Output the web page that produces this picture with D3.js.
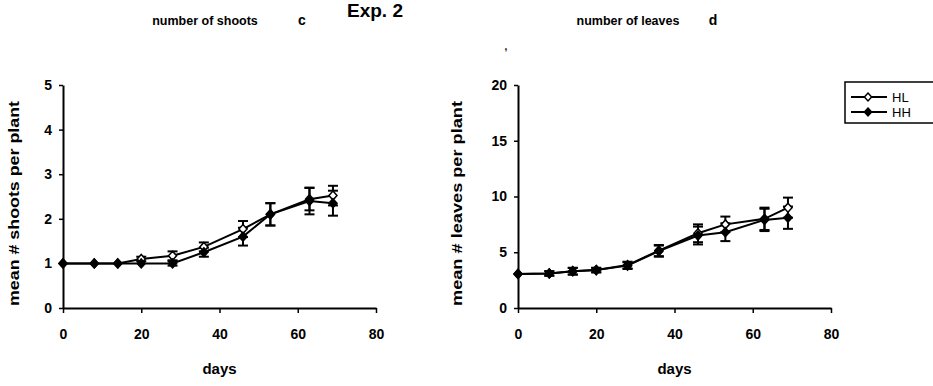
<!DOCTYPE html>
<html>
<head>
<meta charset="utf-8">
<script src="https://cdn.jsdelivr.net/npm/d3@7"></script>
<style>
	body { margin: 0; background: #fff; }
	svg text { font-family: "Liberation Sans", Arial, sans-serif; font-weight: bold; fill: #000; }
</style>
</head>
<body>
<div id="chart"></div>
<script>

// sampling days
let days = [0, 8, 14, 20, 28, 36, 46, 53, 63, 69];

// number of shoots (panel c)
let shootsHL = [1, 1, 1, 1.1, 1.17, 1.37, 1.77, 2.1, 2.44, 2.52];
let shootsHLErr = [0, 0, 0, 0.05, 0.1, 0.1, 0.18, 0.25, 0.25, 0.22];
let shootsHH = [1, 1, 1, 1, 1, 1.25, 1.6, 2.1, 2.4, 2.35];
let shootsHHErr = [0, 0, 0, 0, 0.05, 0.1, 0.2, 0.25, 0.3, 0.28];

// number of leaves (panel d)
let leavesHL = [3.05, 3.1, 3.3, 3.4, 3.85, 5.15, 6.7, 7.5, 8.0, 9.0];
let leavesHLErr = [0, 0.2, 0.3, 0.2, 0.3, 0.5, 0.8, 0.7, 1.0, 0.9];
let leavesHH = [3.05, 3.1, 3.3, 3.4, 3.8, 5.1, 6.5, 6.8, 7.9, 8.1];
let leavesHHErr = [0, 0.2, 0.3, 0.2, 0.3, 0.5, 0.8, 0.8, 1.0, 1.0];

let xTicks = [0, 20, 40, 60, 80];
let shootTicks = [0, 1, 2, 3, 4, 5];
let leafTicks = [0, 5, 10, 15, 20];

let seriesNames = ["HL", "HH"];

let width = 933, height = 386;

// diamond a bit wider than d3's default one
function diamond(r) {
	return `M0,${-r}L${r * 0.9},0L0,${r}L${-r * 0.9},0Z`;
}

let svg = d3.select("#chart").append("svg")
	.attr("width", width)
	.attr("height", height);

// header text
svg.append("text").attr("x", 375).attr("y", 17).attr("text-anchor", "middle")
	.style("font-size", "19px").text("Exp. 2");
svg.append("text").attr("x", 506).attr("y", 50).attr("text-anchor", "middle")
	.style("font-size", "10px").text(",");

/*
 *  draw one panel
 */
function drawPanel(opts) {
	let x = d3.scaleLinear().domain([0, 80]).range([opts.left, opts.left + 313]);
	let y = d3.scaleLinear().domain([0, opts.yMax]).range([308, 85]);

	let g = svg.append("g");

	// title + panel letter
	g.append("text").attr("x", opts.titleX).attr("y", 25).attr("text-anchor", "middle")
		.style("font-size", "12.5px").text(opts.title);
	g.append("text").attr("x", opts.letterX).attr("y", 25).attr("text-anchor", "middle")
		.style("font-size", "14px").text(opts.letter);

	// axes
	let xAxis = g.append("g")
		.attr("transform", `translate(0, ${y(0)})`)
		.call(d3.axisBottom(x).tickValues(xTicks).tickSize(5).tickPadding(16).tickSizeOuter(0));
	let yAxis = g.append("g")
		.attr("transform", `translate(${x(0)}, 0)`)
		.call(d3.axisLeft(y).tickValues(opts.yTicks).tickFormat(d3.format("d"))
			.tickSize(4).tickPadding(7).tickSizeOuter(0));

	[xAxis, yAxis].forEach(a => {
		a.select(".domain").attr("stroke", "#000").attr("stroke-width", 2);
		a.selectAll(".tick line").attr("stroke", "#000").attr("stroke-width", 1.5);
		a.selectAll(".tick text").style("font-size", "14px")
			.style("font-family", "'Liberation Sans', Arial, sans-serif").style("font-weight", "bold");
	});

	g.append("text").attr("x", x(40)).attr("y", 374).attr("text-anchor", "middle")
		.style("font-size", "15px").text("days");

	g.append("text")
		.attr("transform", `translate(${opts.left - opts.labelGap}, ${y(opts.yMax / 2) + 7}) rotate(-90)`)
		.attr("text-anchor", "middle")
		.attr("textLength", 205)
		.attr("lengthAdjust", "spacingAndGlyphs")
		.style("font-size", "14px").text(opts.yLabel);

	let line = d3.line().x((d, i) => x(days[i])).y(d => y(d));

	// HL first, HH (filled) drawn on top
	let series = [
		{name: "HL", values: opts.hl, err: opts.hlErr, fill: "#fff"},
		{name: "HH", values: opts.hh, err: opts.hhErr, fill: "#000"}
	];

	series.forEach(s => {
		// error bars
		let eb = g.append("g");
		s.values.forEach((v, i) => {
			if (s.err[i] <= 0) return;
			let cx = x(days[i]);
			eb.append("line").attr("x1", cx).attr("x2", cx)
				.attr("y1", y(v - s.err[i])).attr("y2", y(v + s.err[i]))
				.attr("stroke", "#000").attr("stroke-width", 2);
			[v - s.err[i], v + s.err[i]].forEach(e => {
				eb.append("line").attr("x1", cx - 5).attr("x2", cx + 5)
					.attr("y1", y(e)).attr("y2", y(e))
					.attr("stroke", "#000").attr("stroke-width", 2);
			});
		});
	});

	series.forEach(s => {
		g.append("path").datum(s.values)
			.attr("d", line)
			.attr("fill", "none")
			.attr("stroke", "#000")
			.attr("stroke-width", 2);
	});

	series.forEach(s => {
		g.selectAll(null).data(s.values).enter()
			.append("path")
			.attr("d", diamond(4.5))
			.attr("transform", (d, i) => `translate(${x(days[i])}, ${y(d)})`)
			.attr("fill", s.fill)
			.attr("stroke", "#000")
			.attr("stroke-width", 1.5);
	});
}

drawPanel({
	left: 63, yMax: 5, yTicks: shootTicks, labelGap: 44,
	hl: shootsHL, hlErr: shootsHLErr, hh: shootsHH, hhErr: shootsHHErr,
	title: "number of shoots", titleX: 205, letter: "c", letterX: 302,
	yLabel: "mean # shoots per plant"
});

drawPanel({
	left: 518, yMax: 20, yTicks: leafTicks, labelGap: 56,
	hl: leavesHL, hlErr: leavesHLErr, hh: leavesHH, hhErr: leavesHHErr,
	title: "number of leaves", titleX: 628, letter: "d", letterX: 713,
	yLabel: "mean # leaves per plant"
});

// legend
let legend = svg.append("g");
legend.append("rect").attr("x", 845).attr("y", 82).attr("width", 100).attr("height", 41)
	.attr("fill", "none").attr("stroke", "#000").attr("stroke-width", 1.5);

seriesNames.forEach((name, i) => {
	let ly = 97 + i * 15;
	legend.append("line").attr("x1", 851).attr("x2", 887).attr("y1", ly).attr("y2", ly)
		.attr("stroke", "#000").attr("stroke-width", 2);
	legend.append("path")
		.attr("d", diamond(4))
		.attr("transform", `translate(868, ${ly})`)
		.attr("fill", name === "HL" ? "#fff" : "#000")
		.attr("stroke", "#000").attr("stroke-width", 1.5);
	legend.append("text").attr("x", 892).attr("y", ly + 5)
		.style("font-size", "13px").style("font-weight", "normal").text(name);
});

</script>
</body>
</html>
